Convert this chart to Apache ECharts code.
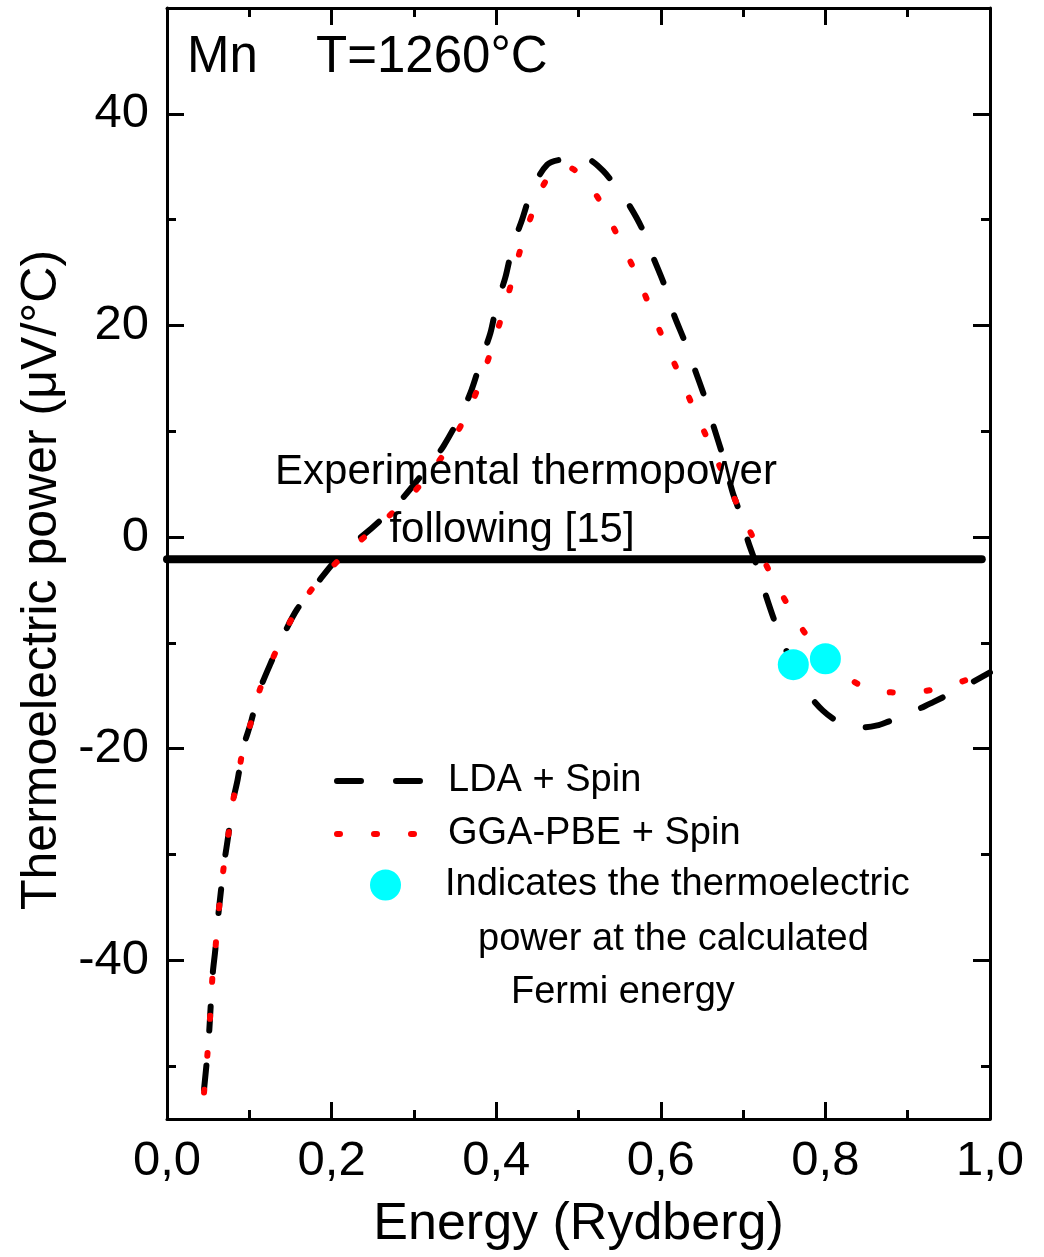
<!DOCTYPE html>
<html>
<head>
<meta charset="utf-8">
<script src="https://cdn.jsdelivr.net/npm/echarts@6/dist/echarts.min.js"></script>
<style>
html,body{margin:0;padding:0;background:#fff;}
#chart{width:1044px;height:1257px;}
</style>
</head>
<body>
<div id="chart"></div>
<script>
// ---- Data ----
const ldaEnergy = [0.045,0.049,0.0514,0.0531,0.0555,0.0587,0.0616,0.0656,0.0697,0.0745,0.079,0.0859,0.0927,0.1017,0.112,0.125,0.1413,0.1583,0.185,0.212,0.251,0.281,0.320,0.336,0.356,0.370,0.382,0.393,0.401,0.411,0.420,0.431,0.444,0.462,0.480,0.500,0.515,0.530,0.545,0.559,0.577,0.591,0.604,0.616,0.629,0.642,0.653,0.664,0.676,0.687,0.696,0.706,0.716,0.728,0.739,0.754,0.769,0.783,0.797,0.812,0.826,0.845,0.863,0.878,0.894,0.912,0.931,0.962,1.000];
const ldaPower = [-52.2,-49.0,-46.6,-44.3,-41.3,-39.0,-36.3,-33.4,-30.7,-28.2,-25.4,-22.9,-19.9,-17.6,-14.6,-12.1,-9.3,-6.8,-4.1,-1.6,1.0,3.2,6.9,8.6,11.4,13.9,16.8,19.3,22.1,24.5,27.5,29.9,32.9,35.2,35.7,35.85,35.6,34.6,33.2,31.7,29.2,26.4,23.9,21.0,18.5,15.7,13.3,10.5,7.5,4.3,2.3,-0.4,-2.6,-5.6,-8.1,-11.0,-13.5,-15.2,-16.4,-17.3,-17.8,-18.0,-17.8,-17.4,-17.0,-16.3,-15.6,-14.4,-12.8];

const ggaEnergy = [0.045,0.049,0.0514,0.0531,0.0555,0.0587,0.0616,0.0656,0.0697,0.0745,0.079,0.0859,0.0927,0.1017,0.112,0.125,0.1413,0.1583,0.185,0.222,0.265,0.303,0.336,0.360,0.378,0.3925,0.405,0.417,0.428,0.441,0.457,0.470,0.483,0.494,0.510,0.526,0.548,0.5675,0.585,0.602,0.620,0.6375,0.656,0.675,0.694,0.713,0.733,0.755,0.781,0.819,0.858,0.899,0.939,0.980,1.000];
const ggaPower = [-52.5,-49.0,-46.6,-44.3,-41.3,-39.0,-36.3,-33.4,-30.7,-28.2,-25.4,-22.9,-19.9,-17.6,-14.6,-12.1,-9.3,-6.8,-4.1,-1.2,1.65,4.5,7.8,10.95,14.1,17.3,20.4,23.6,26.8,30.0,33.2,34.6,35.0,34.75,33.6,31.75,28.4,25.3,22.1,18.9,15.8,12.6,9.4,6.1,2.9,-0.2,-3.4,-6.5,-9.7,-12.8,-14.5,-14.7,-14.3,-13.3,-12.9];

const fermiEnergy = [0.761, 0.800];
const fermiPower = [-12.06, -11.5];

const expEnergy = [0, 0.99];
const expPower = [-2.1, -2.1];

const yMajorTicks = [-40, -20, 0, 20, 40];
const yMinorTicks = [-50, -30, -10, 10, 30];

const seriesNames = ['LDA + Spin', 'GGA-PBE + Spin', 'Indicates the thermoelectric'];

// ---- helpers ----
const zip = (xs, ys) => xs.map((x, i) => [x, ys[i]]);
const FONT = '"Liberation Sans", Arial, Helvetica, sans-serif';
const black = '#000';

const chart = echarts.init(document.getElementById('chart'), null, {renderer: 'canvas'});

const baseX = {
  type: 'value', gridIndex: 0, min: 0, max: 1, interval: 0.2,
  splitLine: {show: false}
};
const baseY = {
  type: 'value', gridIndex: 0, min: -55, max: 50,
  splitLine: {show: false}
};
const axisLineOn = {show: true, onZero: false, lineStyle: {color: black, width: 3}};

const option = {
  backgroundColor: '#fff',
  animation: false,
  grid: {left: 167, right: 54, top: 8, bottom: 138, outerBoundsMode: 'none', containLabel: false},
  xAxis: [
    Object.assign({}, baseX, {
      position: 'bottom',
      axisLine: axisLineOn,
      axisTick: {show: true, inside: true, length: 17, lineStyle: {color: black, width: 3}},
      minorTick: {show: true, splitNumber: 2, length: 9, lineStyle: {color: black, width: 3}},
      axisLabel: {show: true, margin: 18, color: black, fontSize: 49, fontFamily: FONT,
        formatter: v => v.toFixed(1).replace('.', ',')},
      name: 'Energy (Rydberg)', nameLocation: 'middle', nameGap: 80,
      nameTextStyle: {color: black, fontSize: 52, fontFamily: FONT}
    }),
    Object.assign({}, baseX, {
      position: 'top',
      axisLine: axisLineOn,
      axisTick: {show: true, inside: true, length: 17, lineStyle: {color: black, width: 3}},
      minorTick: {show: true, splitNumber: 2, length: 9, lineStyle: {color: black, width: 3}},
      axisLabel: {show: false}
    })
  ],
  yAxis: [
    Object.assign({}, baseY, {
      position: 'left',
      axisLine: axisLineOn,
      axisTick: {show: true, inside: true, length: 17, customValues: yMajorTicks, lineStyle: {color: black, width: 3}},
      axisLabel: {show: true, margin: 18, color: black, fontSize: 49, fontFamily: FONT, customValues: yMajorTicks},
      name: 'Thermoelectric power (\u03bcV/\u00b0C)', nameLocation: 'middle', nameGap: 95,
      nameTextStyle: {color: black, fontSize: 50, fontFamily: FONT, padding: [0, 33, 0, 0]}
    }),
    Object.assign({}, baseY, {
      position: 'left',
      axisLine: {show: false, onZero: false},
      axisTick: {show: true, inside: true, length: 9, customValues: yMinorTicks, lineStyle: {color: black, width: 3}},
      axisLabel: {show: false}
    }),
    Object.assign({}, baseY, {
      position: 'right',
      axisLine: axisLineOn,
      axisTick: {show: true, inside: true, length: 17, customValues: yMajorTicks, lineStyle: {color: black, width: 3}},
      axisLabel: {show: false}
    }),
    Object.assign({}, baseY, {
      position: 'right',
      axisLine: {show: false, onZero: false},
      axisTick: {show: true, inside: true, length: 9, customValues: yMinorTicks, lineStyle: {color: black, width: 3}},
      axisLabel: {show: false}
    })
  ],
  legend: [
    {
      data: [seriesNames[0], seriesNames[1]],
      orient: 'vertical', left: 334, top: 755,
      itemWidth: 85, itemHeight: 14, itemGap: 1, padding: 0,
      selectedMode: false,
      itemStyle: {opacity: 0},
      lineStyle: {width: 6, cap: 'round'},
      textStyle: {color: black, fontSize: 38, fontFamily: FONT, lineHeight: 52, padding: [0, 0, 0, 21]}
    },
    {
      data: [seriesNames[2]],
      orient: 'vertical', left: 370, top: 859,
      itemWidth: 31, itemHeight: 31, padding: 0,
      selectedMode: false,
      textStyle: {color: black, fontSize: 38, fontFamily: FONT, lineHeight: 52, padding: [0, 0, 0, 39]}
    }
  ],
  series: [
    {
      name: 'Experimental', type: 'line', xAxisIndex: 0, yAxisIndex: 0,
      data: zip(expEnergy, expPower), symbol: 'none', silent: true,
      lineStyle: {color: black, width: 8, cap: 'round'}, z: 2
    },
    {
      name: seriesNames[0], type: 'line', xAxisIndex: 0, yAxisIndex: 0,
      data: zip(ldaEnergy, ldaPower), symbol: 'none', smooth: 0.3,
      itemStyle: {color: black},
      lineStyle: {color: black, width: 6, type: [24, 35], cap: 'round'}, z: 3
    },
    {
      name: seriesNames[1], type: 'line', xAxisIndex: 0, yAxisIndex: 0,
      data: zip(ggaEnergy, ggaPower), symbol: 'none', smooth: 0.3,
      itemStyle: {color: '#ff0000'},
      lineStyle: {color: '#ff0000', width: 6, type: [3, 34], cap: 'round'}, z: 4
    },
    {
      name: seriesNames[2], type: 'scatter', xAxisIndex: 0, yAxisIndex: 0,
      data: zip(fermiEnergy, fermiPower), symbol: 'circle', symbolSize: 31,
      itemStyle: {color: '#00ffff', opacity: 1}, z: 5
    }
  ],
  graphic: [
    {type: 'text', left: 187, top: 32, style: {text: 'Mn', fontSize: 51, fontFamily: FONT, fill: black}},
    {type: 'text', left: 316, top: 32, style: {text: 'T=1260\u00b0C', fontSize: 51, fontFamily: FONT, fill: black}},
    {type: 'text', x: 526, y: 472, style: {text: 'Experimental thermopower', fontSize: 42, fontFamily: FONT, fill: black, align: 'center', verticalAlign: 'middle'}, z: 10},
    {type: 'text', x: 512, y: 530, style: {text: 'following [15]', fontSize: 42, fontFamily: FONT, fill: black, align: 'center', verticalAlign: 'middle'}, z: 10},
    {type: 'text', x: 478, y: 940, style: {text: 'power at the calculated', fontSize: 38, fontFamily: FONT, fill: black, align: 'left', verticalAlign: 'middle'}},
    {type: 'text', x: 511, y: 993, style: {text: 'Fermi energy', fontSize: 38, fontFamily: FONT, fill: black, align: 'left', verticalAlign: 'middle'}}
  ]
};

chart.setOption(option);
</script>
</body>
</html>
